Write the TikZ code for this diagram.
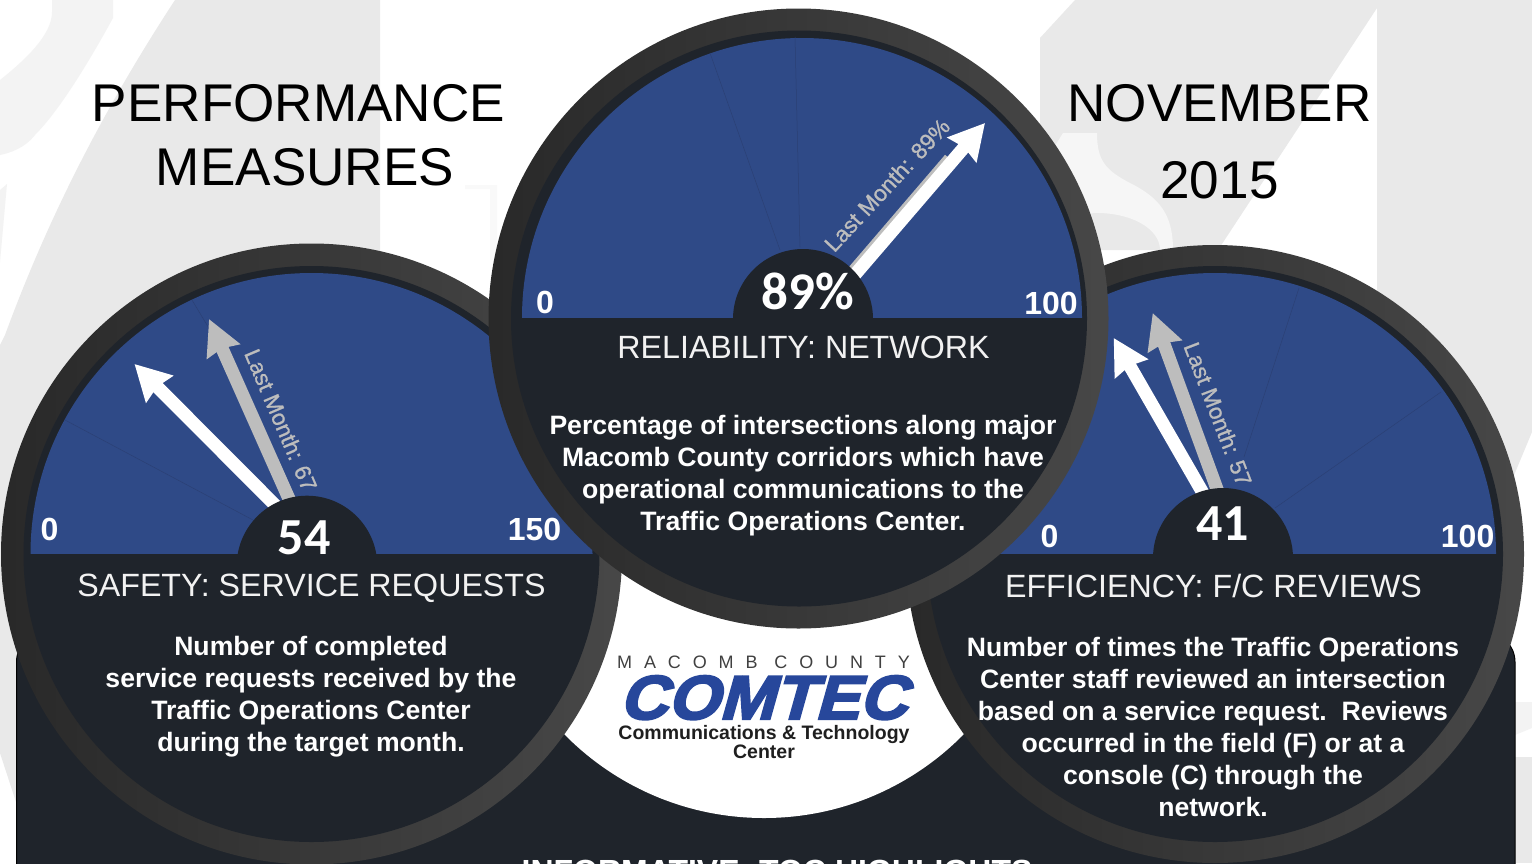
\documentclass[tikz,border=0pt]{standalone}
\usepackage{fontspec}
\usetikzlibrary{arrows.meta}
\setmainfont{Liberation Sans}
\newfontfamily\gaugefont{Carlito}[BoldFont=* Bold]
\newfontfamily\logospaced[LetterSpace=66]{Liberation Sans}
\newfontfamily\comtecfont[FakeSlant=0.28,FakeStretch=1.07,FakeBold=3.5]{Liberation Sans Bold}
\newfontfamily\lastfont[FakeBold=1]{Liberation Sans}
\definecolor{wm}{HTML}{E9E9E9}
\definecolor{wmfaint}{HTML}{F3F3F3}
\definecolor{wmswoosh}{HTML}{F6F6F6}
\definecolor{facedark}{HTML}{1F242B}
\definecolor{gblue}{HTML}{2F4A87}
\definecolor{tickc}{HTML}{2B4074}
\definecolor{lastc}{HTML}{BDBDBD}
\definecolor{comtecblue}{HTML}{27479B}
\tikzset{
  titletext/.style={inner sep=0pt,anchor=base,font=\fontsize{53.1}{53}\selectfont,text=black},
  headtext/.style={inner sep=0pt,anchor=base,font=\fontsize{32.2}{32}\selectfont,text=white!95!black},
  bodytext/.style={inner sep=0pt,anchor=north,align=center,font=\fontsize{26.6}{32}\selectfont\bfseries,text=white},
  scaletext/.style={inner sep=0pt,anchor=base,font=\fontsize{32}{32}\selectfont\bfseries,text=white},
  valuetext/.style={inner sep=0pt,anchor=base,font=\fontsize{52}{52}\selectfont\gaugefont\bfseries,text=white},
  lasttext/.style={inner sep=0pt,anchor=center,font=\fontsize{22.6}{23}\selectfont\lastfont,text=lastc},
  ringfill/.style={shading=axis,shading angle=-45,left color=black!84!white,right color=black!72!white},
  tickline/.style={draw=tickc,line width=0.5pt},
  nowneedle/.style={draw=white,line width=13pt,-{Stealth[length=35pt,width=37pt,inset=3pt]}},
  lastneedle/.style={draw=lastc,line width=13pt,-{Stealth[length=35pt,width=35pt,inset=3pt]}},
  lastshaft/.style={draw=lastc,line width=13pt},
  logotext/.style={inner sep=0pt,anchor=base,font=\fontsize{19.5}{20}\selectfont\bfseries,text=black!88}
}
\begin{document}
\begin{tikzpicture}[x=1pt,y=-1pt]
\useasboundingbox (0,0) rectangle (1532,863);
\clip (0,0) rectangle (1532,863);
\fill[white] (0,0) rectangle (1532,863);
% watermark
\fill[wm] (175,0) -- (380,0) -- (380,300) -- (17,620) -- (17,805) -- (0,753) -- (0,345) -- (5,335) .. controls (40,240) and (90,130) .. (175,0) -- cycle;
\fill[wmfaint] (52,0) -- (113,0) -- (113,18) .. controls (90,60) and (60,110) .. (35,135) .. controls (25,148) and (10,153) .. (0,155) -- (0,80) .. controls (25,60) and (52,35) .. (52,12) -- cycle;
\fill[wmfaint] (0,190) -- (7,184) -- (0,262) -- cycle;
\fill[wm] (1075,0) -- (1532,0) -- (1532,432) -- (1512,480) -- (1377,480) -- (1377,8) -- (1218,250) -- (1040,250) -- (1040,38) -- cycle;
\fill[wmswoosh] (1063,133) -- (1097,133) .. controls (1097,160) and (1105,170) .. (1130,183) .. controls (1160,198) and (1173,215) .. (1173,250) -- (1160,250) .. controls (1160,228) and (1130,212) .. (1093,213) -- (1040,230) -- (1040,170) -- cycle;
\fill[wm] (1515,757) -- (1532,757) -- (1532,863) -- (1515,863) -- cycle;
\fill[wmfaint] (1515,702) -- (1532,702) -- (1532,728) -- (1515,735) -- cycle;
\fill[wmfaint!50!white] (465,185) -- (497,185) -- (497,260) -- (490,260) -- (490,189) -- (465,189) -- cycle;
% titles
\node[titletext] (t1) at (298.5,121) {PERFORMANCE};
\node[titletext] (t2) at (305,185) {MEASURES};
\node[titletext] (t3) at (1219.5,121) {NOVEMBER};
\node[titletext] (t4) at (1219.5,198) {2015};
% panel
\path[fill=facedark,draw=black,line width=1pt,rounded corners=30pt] (16.5,632) rectangle (1515,900);
\begin{scope}
  \clip (0,560) rectangle (1532,863);
  \fill[white] (764,538) circle[radius=280];
\end{scope}
% logo
\node[inner sep=0pt,anchor=base west,font=\fontsize{18}{18}\selectfont\logospaced,text=black!75] (lg1) at (617,668) {MACOMB COUNTY};
\node[inner sep=0pt,anchor=base,text=comtecblue] (lg2) at (763,719) {\fontsize{62}{62}\selectfont\comtecfont COMTEC};
\node[logotext] (lg3) at (764,739.5) {Communications \& Technology};
\node[logotext] (lg4) at (764,758.5) {Center};
% left gauge
\shade[ringfill] (311.5,554) circle[radius=310.5];
\fill[facedark] (311.5,554) circle[radius=288];
\begin{scope}
  \clip (0,0) rectangle (622,553.5);
  \fill[gblue] (311.5,554) circle[radius=281];
  \draw[tickline] (192,300) -- (210,330);
  \draw[tickline] (65,420) -- (253,520);
  \coordinate (lb0) at (294,510); \coordinate (lt0) at (209,319);
  \draw[lastneedle] (lb0) -- (lt0);
  \coordinate (lb1) at (280,510); \coordinate (lt1) at (134.5,364);
  \draw[nowneedle] (lb1) -- (lt1);
  \node[lasttext,rotate=-67] (ll) at (281,420) {Last Month: 67};
  \fill[facedark] (307,566) circle[radius=70.3];
\end{scope}
\node[valuetext] (lv) at (304,554) {54};
\node[scaletext] (l0) at (49.5,540) {0};
\node[scaletext] (l150) at (534.6,540) {150};
\node[headtext] (lh) at (311.5,596) {SAFETY: SERVICE REQUESTS};
\node[bodytext] (lbody) at (311,636) {Number of completed\\service requests received by the\\Traffic Operations Center\\during the target month.};
% right gauge
\shade[ringfill] (1215,554) circle[radius=309];
\fill[facedark] (1215,554) circle[radius=288];
\begin{scope}
  \clip (900,0) rectangle (1532,553.5);
  \fill[gblue] (1215,554) circle[radius=281];
  \draw[tickline] (1299,288) -- (1244,457);
  \draw[tickline] (1441,392) -- (1275,508);
  \coordinate (rb0) at (1221,500); \coordinate (rt0) at (1152.7,313);
  \draw[lastneedle] (rb0) -- (rt0);
  \coordinate (rb1) at (1207,500); \coordinate (rt1) at (1113.7,338);
  \draw[nowneedle] (rb1) -- (rt1);
  \node[lasttext,rotate=-69] (rl) at (1218,414) {Last Month: 57};
  \fill[facedark] (1223,558) circle[radius=70];
\end{scope}
\node[valuetext] (rv) at (1222.5,540.5) {41};
\node[scaletext] (r0) at (1049.5,547) {0};
\node[scaletext] (r100) at (1467.6,547) {100};
\node[headtext] (rh) at (1213.5,597) {EFFICIENCY: F/C REVIEWS};
\node[bodytext] (rbody) at (1213,637) {Number of times the Traffic Operations\\Center staff reviewed an intersection\\based on a service request.\ \ Reviews\\occurred in the field (F) or at a\\console (C) through the\\network.};
% centre gauge
\shade[ringfill] (798.5,318.5) circle[radius=310];
\fill[facedark] (799,318.5) circle[radius=288];
\begin{scope}
  \clip (480,0) rectangle (1110,317.5);
  \fill[gblue] (802,318) circle[radius=280];
  \draw[tickline] (795,37) -- (800,247);
  \draw[tickline] (710,53) -- (780,250);
  \coordinate (cb0) at (843.7,283); \coordinate (ct0) at (950,159);
  \draw[lastshaft] (cb0) -- (ct0);
  \coordinate (cb1) at (846,285); \coordinate (ct1) at (985,123);
  \draw[nowneedle] (cb1) -- (ct1);
  \node[lasttext,rotate=47] (cl) at (887,185) {Last Month: 89\%};
  \fill[facedark] (803,319) circle[radius=70];
\end{scope}
\node[inner sep=0pt,anchor=base,font=\fontsize{53}{53}\selectfont\gaugefont\bfseries,text=white] (cv) at (807.5,309.5) {89\%};
\node[scaletext] (c0) at (545,313) {0};
\node[scaletext] (c100) at (1051,314) {100};
\node[headtext] (ch) at (803.5,358) {RELIABILITY: NETWORK};
\node[bodytext] (cbody) at (803,415) {Percentage of intersections along major\\Macomb County corridors which have\\operational communications to the\\Traffic Operations Center.};
% bottom heading
\node[inner sep=0pt,anchor=base,font=\fontsize{32}{32}\selectfont\bfseries,text=white] (bh) at (777,882) {INFORMATIVE: TOC HIGHLIGHTS};
\end{tikzpicture}
\end{document}
